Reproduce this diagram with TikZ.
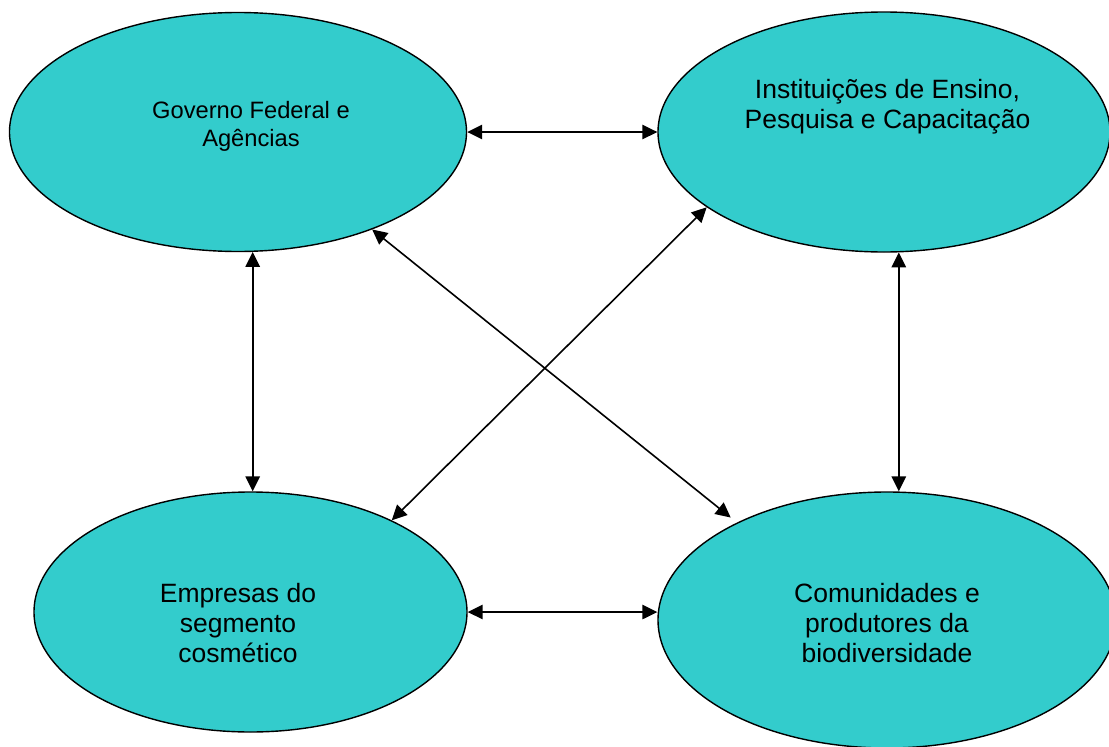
\documentclass[tikz,border=0pt]{standalone}
\usepackage{fontspec}
\setmainfont{Liberation Sans}
\usetikzlibrary{shapes.geometric,arrows.meta}
\definecolor{actorfill}{RGB}{51,204,204}
\begin{document}
\begin{tikzpicture}[x=1pt,y=-1pt,
  actor/.style={ellipse, draw=black, line width=1.4pt, fill=actorfill, inner sep=0pt},
  caption/.style={anchor=base, inner sep=0pt},
  link/.style={{Triangle[length=15pt,width=14.5pt]}-{Triangle[length=15pt,width=14.5pt]}, line width=1.6pt},
]
\useasboundingbox (0,0) rectangle (1109,747);
% the four actors
\node[actor, minimum width=457pt, minimum height=239pt] (gov)  at (238,132)   {};
\node[actor, minimum width=452pt, minimum height=240pt] (inst) at (884,132)   {};
\node[actor, minimum width=433pt, minimum height=240pt] (emp)  at (250.5,612) {};
\node[actor, minimum width=458pt, minimum height=256pt] (com)  at (887,620)   {};
% their names
\node[caption, font=\fontsize{23.7}{28.5}\selectfont] (govt) at (251,118)
  {\begin{tabular}[t]{@{}c@{}}Governo Federal e\\Agências\end{tabular}};
\node[caption, font=\fontsize{26.5}{30}\selectfont] (instt) at (887.5,98)
  {\begin{tabular}[t]{@{}c@{}}Instituições de Ensino,\\Pesquisa e Capacitação\end{tabular}};
\node[caption, font=\fontsize{26.5}{30}\selectfont] (empt) at (238,602)
  {\begin{tabular}[t]{@{}c@{}}Empresas do\\segmento\\cosmético\end{tabular}};
\node[caption, font=\fontsize{26.5}{30}\selectfont] (comt) at (887,602)
  {\begin{tabular}[t]{@{}c@{}}Comunidades e\\produtores da\\biodiversidade\end{tabular}};
% two-way links
\draw[link] (gov.east) -- (inst.west);
\draw[link] (emp.east) -- (emp.east -| com.west);
\draw[link] (gov.-83.8) -- (gov.-83.8 |- emp.north);
\draw[link] (inst.-83.3) -- (inst.-83.3 |- com.north);
\draw[link, shorten >=8pt] (gov.-36.7) -- (com.147.4);
\draw[link] (inst.-157) -- (emp.33);
\end{tikzpicture}
\end{document}
